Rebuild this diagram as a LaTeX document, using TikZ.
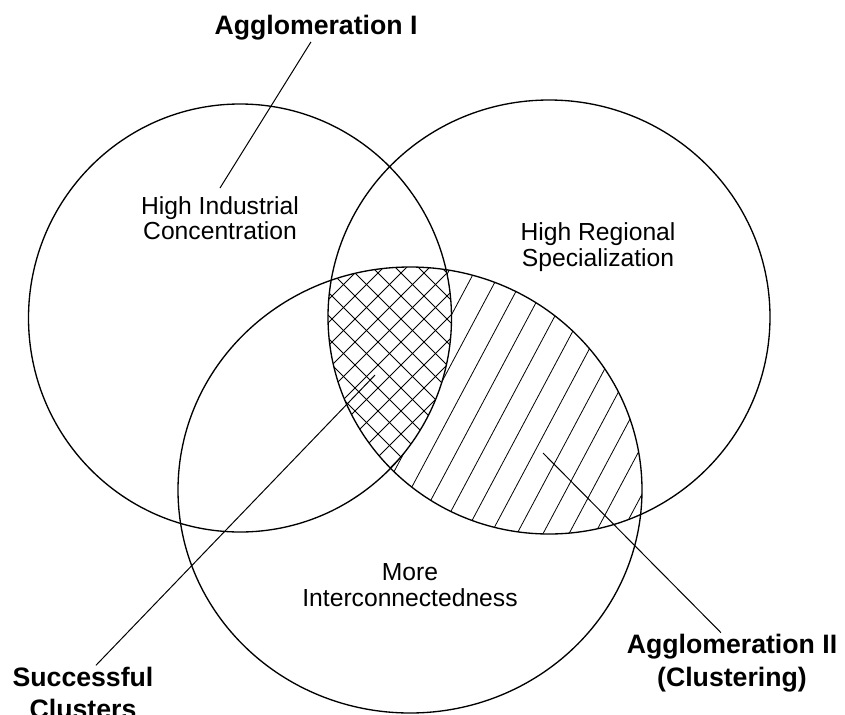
\documentclass[tikz,border=0pt]{standalone}
\usepackage{fontspec}
\setmainfont{Liberation Sans}
\tikzset{every picture/.style={line width=0.75pt}}
\tikzset{
  venntext/.style={inner sep=0.75pt, align=center, font=\fontsize{18.5}{19}\selectfont},
  calltext/.style={inner sep=0.75pt, align=center, font=\fontsize{20}{24.5}\selectfont\bfseries},
  hatchline/.style={line width=0.6pt},
  rim/.style={line width=1pt}
}

\begin{document}
\begin{tikzpicture}[x=0.75pt,y=0.75pt,yscale=-1,xscale=1]
%set diagram left start at 0, and has height of 714
\useasboundingbox (0,0) rectangle (845,714);
\clip (0,0) rectangle (845,714);

%Hatch: lens of specialization and interconnectedness
\begin{scope}
\clip (549,317) ellipse [x radius=221, y radius=217];
\clip (410,490) ellipse [x radius=232, y radius=223];
\foreach \k in {165,191,...,685}
  \draw [hatchline] (\k,560) -- ++(165,-310);
\end{scope}

%Hatch: all three circles (cross)
\begin{scope}
\clip (240,318) ellipse [x radius=211.5, y radius=214];
\clip (549,317) ellipse [x radius=221, y radius=217];
\clip (410,490) ellipse [x radius=232, y radius=223];
\fill [white] (300,250) rectangle (470,490);
\foreach \k in {0,23,...,480}{
  \draw [hatchline] (\k,490) -- ++(240,-240);
  \draw [hatchline] (\k+10,250) -- ++(240,240);
}
\end{scope}

%Shape: Circle (industrial concentration)
\draw [rim] (240,318) ellipse [x radius=211.5, y radius=214];
%Shape: Circle (regional specialization)
\draw [rim] (549,317) ellipse [x radius=221, y radius=217];
%Shape: Circle (interconnectedness)
\draw [rim] (410,490) ellipse [x radius=232, y radius=223];

% Text Node
\node [venntext] (indC) at (220,218) {High Industrial\\Concentration};
% Text Node
\node [venntext] (regS) at (598,247) {High Regional\\Specialization};
% Text Node
\node [venntext] (intC) at (410,585) {More\\Interconnectedness};
% Text Node
\node [calltext] (aggI) at (316,28) {Agglomeration I};
% Text Node
\node [calltext] (agII) at (732,663) {Agglomeration II\\(Clustering)};
% Text Node
\node [calltext] (succ) at (83,693) {Successful\\Clusters};

\coordinate (aggIin) at (220,188);
\coordinate (succin) at (375,375);
\coordinate (agIIin) at (543,453);

%Straight Lines
\draw (aggI.250) -- (aggIin);
\draw (succ.65) -- (succin);
\draw (agII.110) -- (agIIin);

\end{tikzpicture}
\end{document}
